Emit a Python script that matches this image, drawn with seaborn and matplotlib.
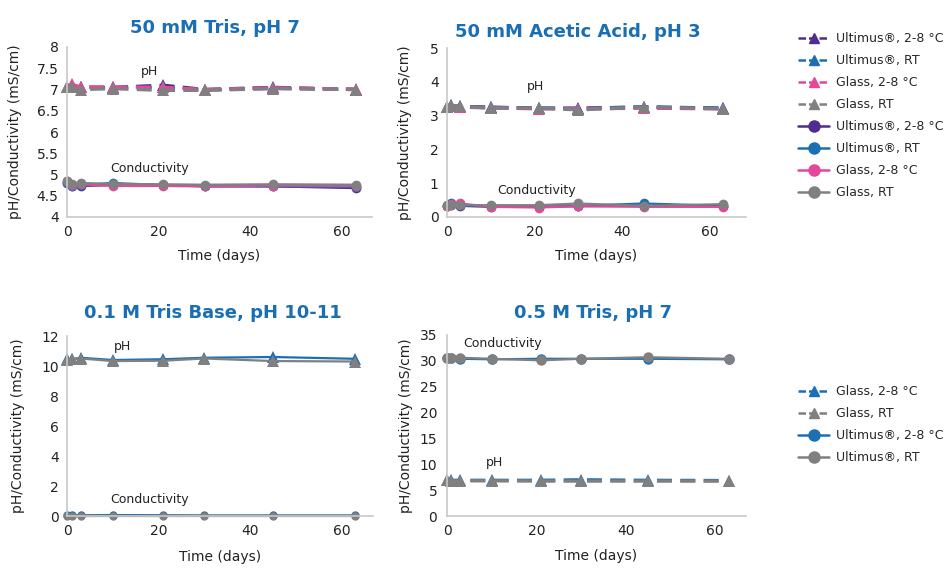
import numpy as np
import pandas as pd
import seaborn as sns
import matplotlib.pyplot as plt
from matplotlib.lines import Line2D
from matplotlib.ticker import FuncFormatter

# sampling days shared by every series
days = [0, 1, 3, 10, 21, 30, 45, 63]

# 50 mM Tris, pH 7
tris_ph_ult_cold = [7.05, 7.10, 7.05, 7.05, 7.10, 7.00, 7.05, 7.00]
tris_ph_ult_rt = [7.05, 7.08, 7.05, 7.04, 7.05, 6.99, 7.03, 7.00]
tris_ph_glass_cold = [7.05, 7.12, 7.06, 7.06, 7.05, 7.00, 7.04, 7.01]
tris_ph_glass_rt = [7.05, 7.05, 7.00, 7.02, 6.98, 6.98, 7.02, 7.00]
tris_cond_ult_cold = [4.80, 4.72, 4.73, 4.75, 4.75, 4.72, 4.72, 4.68]
tris_cond_ult_rt = [4.80, 4.72, 4.75, 4.80, 4.75, 4.73, 4.72, 4.70]
tris_cond_glass_cold = [4.85, 4.75, 4.77, 4.73, 4.73, 4.72, 4.74, 4.73]
tris_cond_glass_rt = [4.85, 4.77, 4.80, 4.78, 4.77, 4.76, 4.77, 4.76]

# 50 mM Acetic Acid, pH 3
acet_ph_ult_cold = [3.25, 3.30, 3.27, 3.25, 3.22, 3.22, 3.25, 3.22]
acet_ph_ult_rt = [3.25, 3.28, 3.26, 3.24, 3.22, 3.21, 3.26, 3.22]
acet_ph_glass_cold = [3.25, 3.27, 3.25, 3.23, 3.20, 3.20, 3.22, 3.20]
acet_ph_glass_rt = [3.25, 3.30, 3.27, 3.22, 3.22, 3.17, 3.25, 3.20]
acet_cond_ult_cold = [0.33, 0.35, 0.33, 0.30, 0.30, 0.32, 0.33, 0.32]
acet_cond_ult_rt = [0.33, 0.40, 0.35, 0.32, 0.30, 0.33, 0.40, 0.33]
acet_cond_glass_cold = [0.33, 0.37, 0.40, 0.30, 0.28, 0.32, 0.30, 0.30]
acet_cond_glass_rt = [0.35, 0.35, 0.35, 0.35, 0.35, 0.40, 0.33, 0.38]

# 0.1 M Tris Base, pH 10-11
base_ph_cold = [10.45, 10.45, 10.55, 10.40, 10.45, 10.55, 10.60, 10.48]
base_ph_rt = [10.40, 10.45, 10.50, 10.33, 10.35, 10.50, 10.33, 10.30]
base_cond_cold = [0.05, 0.05, 0.05, 0.06, 0.05, 0.04, 0.04, 0.04]
base_cond_rt = [0.03, 0.03, 0.03, 0.03, 0.03, 0.03, 0.03, 0.03]

# 0.5 M Tris, pH 7
tris5_ph_glass_cold = [6.95, 6.90, 6.90, 6.90, 6.90, 7.00, 6.90, 6.85]
tris5_ph_glass_rt = [6.90, 6.80, 6.80, 6.80, 6.75, 6.75, 6.75, 6.75]
tris5_cond_ult_cold = [30.6, 30.5, 30.4, 30.3, 30.4, 30.4, 30.4, 30.3]
tris5_cond_ult_rt = [30.6, 30.6, 30.6, 30.4, 30.1, 30.4, 30.7, 30.4]

labels_top = ["Ultimus®, 2-8 °C", "Ultimus®, RT", "Glass, 2-8 °C", "Glass, RT"]
labels_bottom_ph = ["Glass, 2-8 °C", "Glass, RT"]
labels_bottom_cond = ["Ultimus®, 2-8 °C", "Ultimus®, RT"]

PURPLE = "#4f2d8f"
BLUE = "#1d6fb3"
PINK = "#e5489a"
GREY = "#808080"
TITLE = "#1a6eb4"
top_colors = [PURPLE, BLUE, PINK, GREY]
DASH = (0, (4.5, 2.5))

sns.set_theme(style="white")
plt.rcParams["font.family"] = ["DejaVu Sans"]

W, H = 950, 575
fig = plt.figure(figsize=(W / 100, H / 100), dpi=100)


def px_axes(left, top, right, bottom):
    return fig.add_axes([left / W, 1 - bottom / H, (right - left) / W, (bottom - top) / H])


def style_axes(ax, xmax, ylim, yticks, xlab_y, ylab_x):
    ax.set_xlim(0, xmax)
    ax.set_ylim(*ylim)
    ax.set_xticks([0, 20, 40, 60])
    ax.set_yticks(yticks)
    ax.yaxis.set_major_formatter(FuncFormatter(lambda v, p: f"{v:g}"))
    for s in ["top", "right"]:
        ax.spines[s].set_visible(False)
    for s in ["left", "bottom"]:
        ax.spines[s].set_color("#c8c8c8")
        ax.spines[s].set_linewidth(1.2)
    ax.tick_params(axis="both", length=0, labelsize=10, colors="#222222", pad=6)
    ax.set_xlabel("Time (days)", fontsize=10, color="#222222")
    ax.set_ylabel("pH/Conductivity (mS/cm)", fontsize=10, color="#222222")
    ax.xaxis.set_label_coords(0.5, xlab_y)
    ax.yaxis.set_label_coords(ylab_x, 0.5)
    ax.grid(False)


def draw(ax, values, color, marker, ms, ls, lw):
    sns.lineplot(x=days, y=values, ax=ax, color=color, marker=marker, markersize=ms,
                 markeredgecolor=color, markeredgewidth=0, linestyle=ls, linewidth=lw,
                 clip_on=False)


# ---- 50 mM Tris, pH 7
ax1 = px_axes(67, 47, 372, 217)
for vals, c in zip([tris_cond_ult_cold, tris_cond_ult_rt, tris_cond_glass_cold, tris_cond_glass_rt], top_colors):
    draw(ax1, vals, c, "o", 7, "-", 1.6)
for vals, c in zip([tris_ph_ult_cold, tris_ph_ult_rt, tris_ph_glass_cold, tris_ph_glass_rt], top_colors):
    draw(ax1, vals, c, "^", 9, DASH, 2.4)
style_axes(ax1, 66.5, (4, 8), np.arange(4, 8.01, 0.5), -0.188, -0.148)
ax1.text(18, 7.42, "pH", fontsize=9, ha="center", va="center", color="#222222")
ax1.text(18, 5.15, "Conductivity", fontsize=9, ha="center", va="center", color="#222222")

# ---- 50 mM Acetic Acid, pH 3
ax2 = px_axes(447, 48, 746, 217)
for vals, c in zip([acet_cond_ult_cold, acet_cond_ult_rt, acet_cond_glass_cold, acet_cond_glass_rt], top_colors):
    draw(ax2, vals, c, "o", 7, "-", 1.6)
for vals, c in zip([acet_ph_ult_cold, acet_ph_ult_rt, acet_ph_glass_cold, acet_ph_glass_rt], top_colors):
    draw(ax2, vals, c, "^", 9, DASH, 2.4)
style_axes(ax2, 68.3, (0, 5), range(0, 6), -0.19, -0.117)
ax2.text(20.3, 3.85, "pH", fontsize=9, ha="center", va="center", color="#222222")
ax2.text(20.5, 0.77, "Conductivity", fontsize=9, ha="center", va="center", color="#222222")

# ---- 0.1 M Tris Base, pH 10-11
ax3 = px_axes(67, 336, 373, 516)
draw(ax3, base_cond_cold, BLUE, "o", 6, "-", 1.6)
draw(ax3, base_cond_rt, GREY, "o", 6, "-", 1.6)
draw(ax3, base_ph_cold, BLUE, "^", 9, "-", 1.6)
draw(ax3, base_ph_rt, GREY, "^", 9, "-", 1.6)
style_axes(ax3, 66.9, (0, 12), range(0, 13, 2), -0.19, -0.137)
ax3.text(12.2, 11.27, "pH", fontsize=9, ha="center", va="center", color="#222222")
ax3.text(18, 1.13, "Conductivity", fontsize=9, ha="center", va="center", color="#222222")

# ---- 0.5 M Tris, pH 7
ax4 = px_axes(447, 335, 746, 516)
draw(ax4, tris5_cond_ult_cold, BLUE, "o", 7.5, "-", 1.6)
draw(ax4, tris5_cond_ult_rt, GREY, "o", 7.5, "-", 1.6)
draw(ax4, tris5_ph_glass_cold, BLUE, "^", 9, DASH, 2.4)
draw(ax4, tris5_ph_glass_rt, GREY, "^", 9, DASH, 2.4)
style_axes(ax4, 66.9, (0, 35), range(0, 36, 5), -0.182, -0.114)
ax4.tick_params(axis="y", length=4, color="#c8c8c8", pad=3)
ax4.text(12.5, 33.3, "Conductivity", fontsize=9, ha="center", va="center", color="#222222")
ax4.text(10.7, 10.4, "pH", fontsize=9, ha="center", va="center", color="#222222")

# ---- titles
for x, y, t in [(215, 28, "50 mM Tris, pH 7"), (578, 32, "50 mM Acetic Acid, pH 3"),
                (213, 313, "0.1 M Tris Base, pH 10-11"), (593, 313, "0.5 M Tris, pH 7")]:
    fig.text(x / W, 1 - y / H, t, fontsize=13, fontweight="bold", color=TITLE,
             ha="center", va="center")

# ---- legends
leg_kw = dict(loc="upper left", frameon=False, fontsize=9, handlelength=2.5,
              handletextpad=0.55, labelspacing=0.72, borderpad=0, borderaxespad=0)

top_handles = [Line2D([], [], color=c, marker="^", markersize=7, linestyle=(0, (3, 1.2)), linewidth=1.8)
               for c in top_colors]
top_handles += [Line2D([], [], color=c, marker="o", markersize=8, linestyle="-", linewidth=1.8)
                for c in top_colors]
fig.legend(top_handles, labels_top + labels_top, bbox_to_anchor=(798 / W, 1 - 32 / H), **leg_kw)

bottom_handles = [Line2D([], [], color=c, marker="^", markersize=7, linestyle=(0, (3, 1.2)), linewidth=1.8)
                  for c in [BLUE, GREY]]
bottom_handles += [Line2D([], [], color=c, marker="o", markersize=8, linestyle="-", linewidth=1.8)
                   for c in [BLUE, GREY]]
fig.legend(bottom_handles, labels_bottom_ph + labels_bottom_cond,
           bbox_to_anchor=(798 / W, 1 - 385 / H), **leg_kw)

fig.savefig("out.png", dpi=100)
